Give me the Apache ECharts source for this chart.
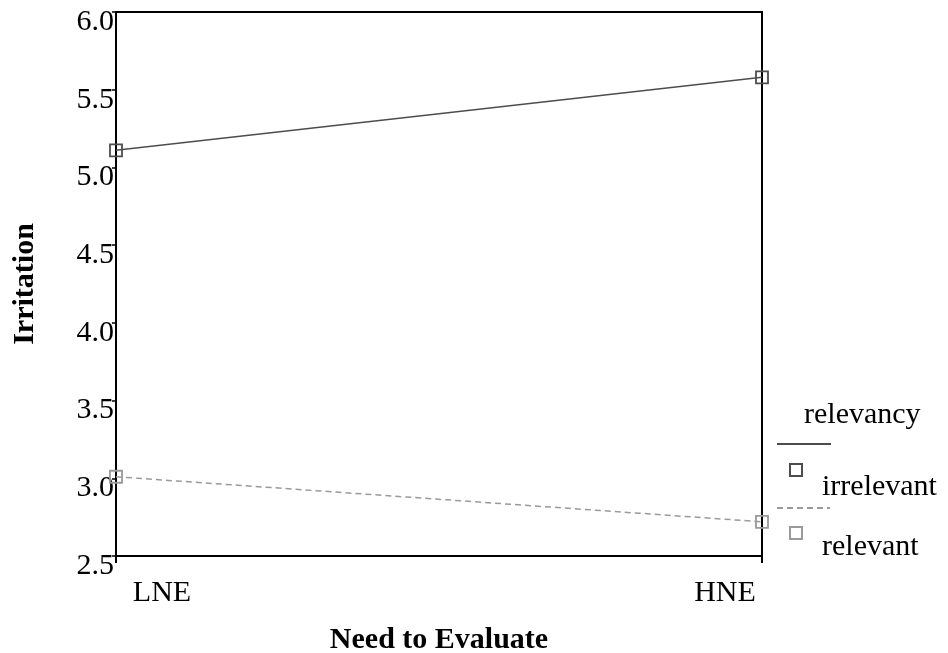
<!DOCTYPE html>
<html><head><meta charset="utf-8">
<script src="https://cdn.jsdelivr.net/npm/echarts@6/dist/echarts.min.js"></script>
<style>html,body{margin:0;padding:0;background:#fff}#c{width:948px;height:653px}</style>
</head><body><div id="c"></div>
<script>
const categories = ['LNE', 'HNE'];
const irrelevant = [5.11, 5.58];
const relevant = [3.01, 2.72];
const yTicks = [2.5, 3.0, 3.5, 4.0, 4.5, 5.0, 5.5, 6.0];
const legendTitle = 'relevancy';
const seriesNames = ['irrelevant', 'relevant'];

const F = 'Liberation Serif';
const FS = 30;
const dark = '#4d4d4d', light = '#9a9a9a';
const chart = echarts.init(document.getElementById('c'));
chart.setOption({
  animation: false,
  textStyle: { fontFamily: F },
  grid: { left: 116, right: 186, top: 12, bottom: 97, containLabel: false, outerBoundsMode: 'none' },
  xAxis: [{
    type: 'category', data: categories, boundaryGap: false,
    name: 'Need to Evaluate', nameLocation: 'middle', nameGap: 69,
    nameTextStyle: { fontFamily: F, fontSize: FS, fontWeight: 'bold', color: '#000' },
    axisLine: { lineStyle: { color: '#000', width: 2 } },
    axisTick: { length: 7, lineStyle: { color: '#000', width: 2 } },
    axisLabel: {
      fontFamily: F, fontSize: FS, color: '#000', margin: 22,
      formatter: v => v === categories[0] ? '{a|' + v + '}' : '{b|' + v + '}',
      rich: {
        a: { fontFamily: F, fontSize: FS, color: '#000', padding: [0, 0, 0, 92] },
        b: { fontFamily: F, fontSize: FS, color: '#000', padding: [0, 74, 0, 0] }
      }
    },
    splitLine: { show: false }
  }, {
    type: 'category', data: categories, boundaryGap: false, position: 'top',
    axisLine: { lineStyle: { color: '#000', width: 2 } },
    axisTick: { show: false }, axisLabel: { show: false }
  }],
  yAxis: [{
    type: 'value', min: yTicks[0], max: yTicks[yTicks.length - 1], interval: 0.5,
    name: 'Irritation', nameLocation: 'middle', nameGap: 76,
    nameTextStyle: { fontFamily: F, fontSize: FS, fontWeight: 'bold', color: '#000' },
    axisLine: { show: true, lineStyle: { color: '#000', width: 2 } },
    axisTick: { show: true, length: 4, lineStyle: { color: '#000', width: 1.5 } },
    axisLabel: { fontFamily: F, fontSize: FS, color: '#000', margin: 2,
      verticalAlign: 'top', lineHeight: 20,
      formatter: v => v.toFixed(1) },
    splitLine: { show: false }
  }, {
    type: 'value', min: yTicks[0], max: yTicks[yTicks.length - 1], interval: 0.5, position: 'right',
    axisLine: { show: true, lineStyle: { color: '#000', width: 2 } },
    axisTick: { show: false }, axisLabel: { show: false }, splitLine: { show: false }
  }],
  series: [{
    name: seriesNames[0], type: 'line', data: irrelevant,
    symbol: 'rect', symbolSize: 12, showAllSymbol: true,
    lineStyle: { color: dark, width: 1.5 },
    itemStyle: { color: 'rgba(255,255,255,0)', borderColor: dark, borderWidth: 1.8 }
  }, {
    name: seriesNames[1], type: 'line', data: relevant,
    symbol: 'rect', symbolSize: 12,
    lineStyle: { color: light, width: 1.5, type: [6, 4] },
    itemStyle: { color: 'rgba(255,255,255,0)', borderColor: light, borderWidth: 1.8 }
  }],
  graphic: [
    { type: 'text', left: 804, top: 400, style: { text: legendTitle, font: FS + 'px ' + F, fill: '#000' } },
    { type: 'line', shape: { x1: 777, y1: 444, x2: 831, y2: 444 }, style: { stroke: dark, lineWidth: 2 } },
    { type: 'rect', shape: { x: 790, y: 464, width: 12, height: 12 }, style: { fill: '#fff', stroke: dark, lineWidth: 2 } },
    { type: 'text', left: 822, top: 472, style: { text: seriesNames[0], font: FS + 'px ' + F, fill: '#000' } },
    { type: 'line', shape: { x1: 777, y1: 508, x2: 830, y2: 508 }, style: { stroke: light, lineWidth: 2, lineDash: [6, 4] } },
    { type: 'rect', shape: { x: 790, y: 527, width: 12, height: 12 }, style: { fill: '#fff', stroke: light, lineWidth: 2 } },
    { type: 'text', left: 822, top: 532, style: { text: seriesNames[1], font: FS + 'px ' + F, fill: '#000' } }
  ]
});
</script></body></html>
